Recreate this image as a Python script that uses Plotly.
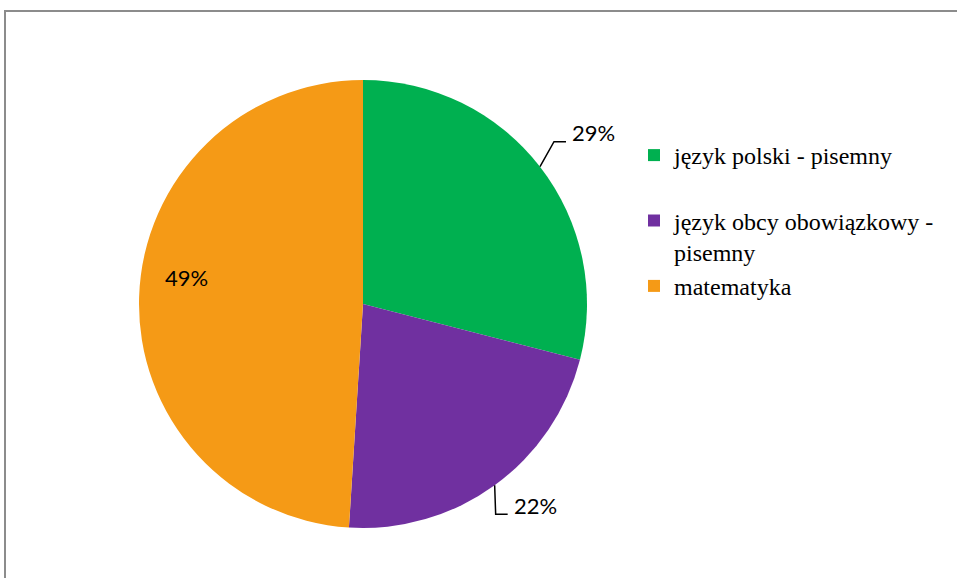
import math
import plotly.graph_objects as go

# ---- data ----
categories = ["język polski - pisemny<br> ", "język obcy obowiązkowy -<br>pisemny", "matematyka"]
values = [29, 22, 49]
colors = ["#00B050", "#7030A0", "#F59A16"]
label_texts = ["29%", "22%", "49%"]

# ---- layout constants (pixels) ----
W, H = 957, 578
CX, CY, R = 363, 304, 224
# per-label placement: (dx, dy) from slice edge at mid-angle, anchor, leader?
label_style = [
    (30, -34, "left", True),
    (17, 20, "left", True),
    (47, -19, "center", False),
]

def px(x):
    return x / W

def py(y):
    return 1 - y / H

fig = go.Figure(go.Pie(
    labels=categories,
    values=values,
    sort=False,
    direction="clockwise",
    rotation=0,
    textinfo="none",
    hoverinfo="label+percent",
    marker=dict(colors=colors, line=dict(width=0)),
    domain=dict(x=[px(CX - R), px(CX + R)], y=[py(CY + R), py(CY - R)]),
))

total = sum(values)
cum = 0
annotations = []
shapes = []
for v, txt, (dx, dy, anchor, leader) in zip(values, label_texts, label_style):
    mid = (cum + v / 2) / total * 2 * math.pi
    cum += v
    ex = CX + R * math.sin(mid)
    ey = CY - R * math.cos(mid)
    lx, ly = ex + dx, ey + dy
    annotations.append(dict(
        x=px(lx), y=py(ly), xref="paper", yref="paper", text=txt,
        showarrow=False, xanchor=anchor, yanchor="middle",
        font=dict(family="Lato", size=22, color="#000000"),
    ))
    if leader:
        path = "M {},{} L {},{} L {},{}".format(
            px(ex), py(ey), px(lx - 16), py(ly + 9), px(lx - 4), py(ly + 9))
        shapes.append(dict(type="path", xref="paper", yref="paper", path=path,
                           line=dict(color="#000000", width=1.5)))

# chart border
shapes.append(dict(type="rect", xref="paper", yref="paper",
                   x0=px(5), y0=-0.05, x1=1.05, y1=py(11),
                   line=dict(color="#8C8C8C", width=2)))

fig.update_layout(
    width=W, height=H,
    margin=dict(l=0, r=0, t=0, b=0),
    paper_bgcolor="white",
    plot_bgcolor="white",
    showlegend=True,
    legend=dict(
        x=px(634), y=py(133), xanchor="left", yanchor="top",
        valign="top",
        font=dict(family="Liberation Serif", size=24, color="#000000"),
        bgcolor="rgba(0,0,0,0)",
    ),
    annotations=annotations,
    shapes=shapes,
)

fig.write_html(
    "out.html",
    config={"displayModeBar": False},
    post_script="document.body.style.margin='0';document.body.style.overflow='hidden';",
)
